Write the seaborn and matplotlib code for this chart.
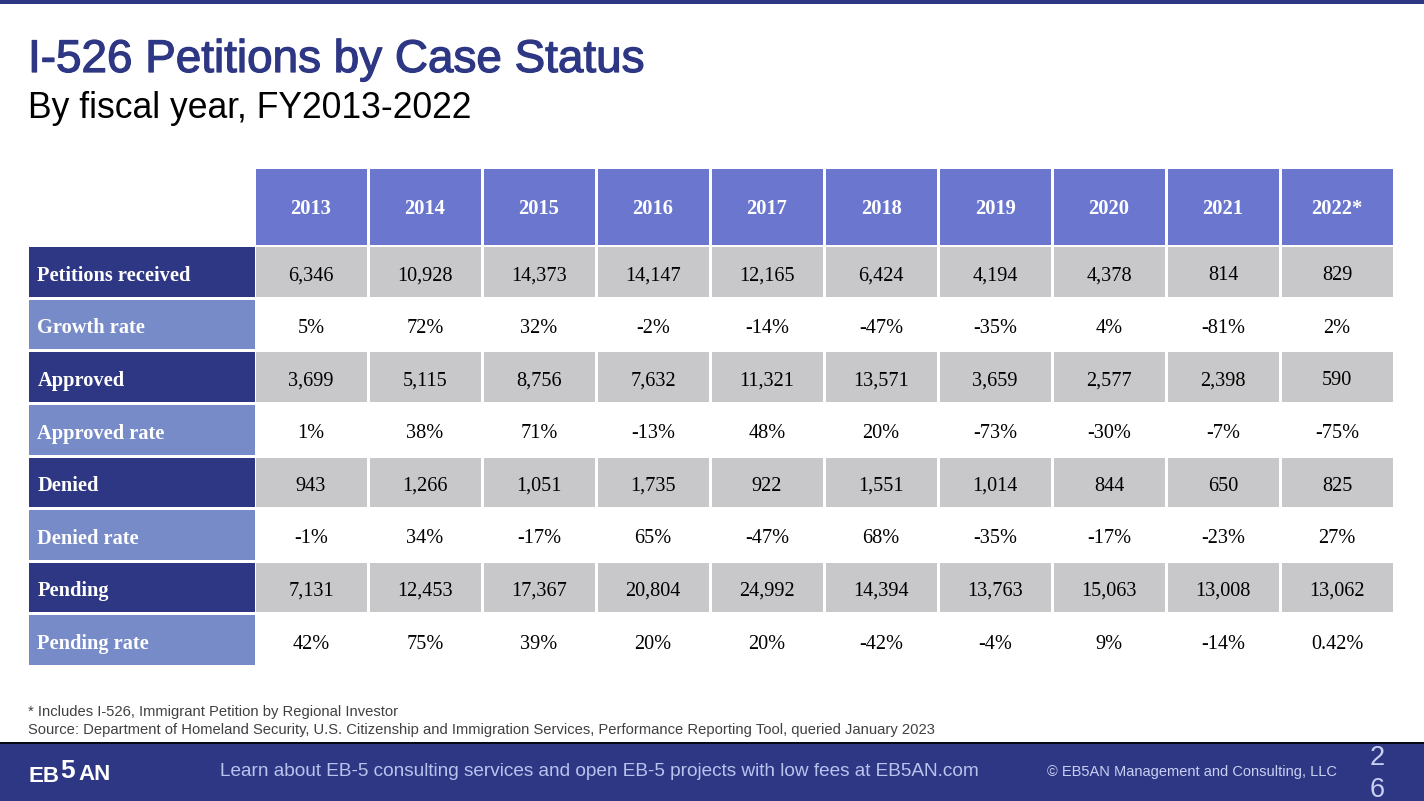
import numpy as np
import pandas as pd
import matplotlib
matplotlib.use("Agg")
import matplotlib.pyplot as plt
from matplotlib.colors import ListedColormap
from matplotlib.patches import Rectangle
import matplotlib.patheffects as pe
import seaborn as sns

# ---------------- data ----------------
years = ["2013", "2014", "2015", "2016", "2017", "2018", "2019", "2020", "2021", "2022*"]
row_labels = ["Petitions received", "Growth rate", "Approved", "Approved rate",
              "Denied", "Denied rate", "Pending", "Pending rate"]
petitions_received = ["6,346", "10,928", "14,373", "14,147", "12,165", "6,424", "4,194", "4,378", "814", "829"]
growth_rate = ["5%", "72%", "32%", "-2%", "-14%", "-47%", "-35%", "4%", "-81%", "2%"]
approved = ["3,699", "5,115", "8,756", "7,632", "11,321", "13,571", "3,659", "2,577", "2,398", "590"]
approved_rate = ["1%", "38%", "71%", "-13%", "48%", "20%", "-73%", "-30%", "-7%", "-75%"]
denied = ["943", "1,266", "1,051", "1,735", "922", "1,551", "1,014", "844", "650", "825"]
denied_rate = ["-1%", "34%", "-17%", "65%", "-47%", "68%", "-35%", "-17%", "-23%", "27%"]
pending = ["7,131", "12,453", "17,367", "20,804", "24,992", "14,394", "13,763", "15,063", "13,008", "13,062"]
pending_rate = ["42%", "75%", "39%", "20%", "20%", "-42%", "-4%", "9%", "-14%", "0.42%"]

title = "I-526 Petitions by Case Status"
subtitle = "By fiscal year, FY2013-2022"
note1 = "* Includes I-526, Immigrant Petition by Regional Investor"
note2 = "Source: Department of Homeland Security, U.S. Citizenship and Immigration Services, Performance Reporting Tool, queried January 2023"
footer_mid = "Learn about EB-5 consulting services and open EB-5 projects with low fees at EB5AN.com"
footer_right = "\u00a9 EB5AN Management and Consulting, LLC"
page_no = "26"

# ---------------- styling ----------------
NAVY = "#2E3784"
HEADER = "#6B77CF"
LIGHT = "#788BC9"
GRAY = "#C8C8CA"
WHITE = "#FFFFFF"

sns.set_theme(style="white")
plt.rcParams["font.family"] = ["Liberation Sans", "DejaVu Sans"]

W, H = 1424, 801
fig = plt.figure(figsize=(W / 100, H / 100), dpi=100)
fig.patch.set_facecolor("white")

def px_axes(x0, y0, x1, y1):
    return fig.add_axes([x0 / W, 1 - y1 / H, (x1 - x0) / W, (y1 - y0) / H])

# overlay axes in pixel coordinates
bg = fig.add_axes([0, 0, 1, 1])
bg.set_xlim(0, W)
bg.set_ylim(H, 0)
bg.axis("off")

# top bar
bg.add_patch(Rectangle((0, 0), W, 4, color=NAVY, lw=0))
# titles
bg.text(28, 60, title, fontsize=33, color=NAVY, va="center", ha="left",
        path_effects=[pe.withStroke(linewidth=0.9, foreground=NAVY)])
bg.text(28, 108, subtitle, fontsize=25.6, color="black", va="center", ha="left")
# notes
bg.text(28, 712, note1, fontsize=10.65, color="#404040", va="center", ha="left")
bg.text(28, 730, note2, fontsize=10.65, color="#404040", va="center", ha="left")
# footer
bg.add_patch(Rectangle((0, 742), W, H - 742, color=NAVY, lw=0))
bg.plot([0, W], [742.5, 742.5], color="black", lw=1.2)
bg.text(599, 771, footer_mid, fontsize=13.7, color="#B9C3EE", va="center", ha="center")
bg.text(1192, 772, footer_right, fontsize=10.5, color="#C9D0F2", va="center", ha="center")
bg.text(1377, 758, page_no[0], fontsize=19.5, color="#C9D0F2", va="center", ha="center")
bg.text(1377, 790, page_no[1], fontsize=19.5, color="#C9D0F2", va="center", ha="center")
bg.text(29, 776, "EB", fontsize=16, color="white", fontweight="bold", va="center", ha="left")
bg.text(60, 771, "5", fontsize=19, color="white", fontweight="bold", va="center", ha="left")
bg.text(78, 775, "AN", fontsize=16, color="white", fontweight="bold", va="center", ha="left")

SERIF = ["Liberation Serif", "DejaVu Serif"]

# ---------------- body heatmap ----------------
values = [petitions_received, growth_rate, approved, approved_rate,
          denied, denied_rate, pending, pending_rate]
body_text = pd.DataFrame(values, index=row_labels, columns=years)
shade = pd.DataFrame([[1 if i % 2 == 0 else 0] * len(years) for i in range(len(row_labels))],
                     index=row_labels, columns=years)

ax_body = px_axes(254, 245, 1394, 666)
sns.heatmap(shade, ax=ax_body, cmap=ListedColormap([WHITE, GRAY]), vmin=0, vmax=1,
            cbar=False, annot=body_text.values, fmt="", linewidths=2, linecolor="white",
            annot_kws={"fontsize": 14.6, "color": "black", "family": SERIF,
                       "va": "center_baseline"})
for t in ax_body.texts:
    x, y = t.get_position()
    t.set_position((x, y + 0.035))
ax_body.set_xticks([]); ax_body.set_yticks([])
ax_body.set_xlabel(""); ax_body.set_ylabel("")

# ---------------- header heatmap ----------------
ax_head = px_axes(254, 167, 1394, 246)
hdr = pd.DataFrame([[1] * len(years)], columns=years)
sns.heatmap(hdr, ax=ax_head, cmap=ListedColormap([HEADER]), cbar=False,
            annot=np.array([years]), fmt="", linewidths=2, linecolor="white",
            annot_kws={"fontsize": 14.8, "color": "white", "fontweight": "bold",
                       "family": SERIF, "va": "center_baseline"})
ax_head.set_xticks([]); ax_head.set_yticks([])
ax_head.set_xlabel(""); ax_head.set_ylabel("")

# ---------------- row label heatmap ----------------
ax_lab = px_axes(27, 245, 256, 666)
lab = pd.DataFrame([[0 if i % 2 == 0 else 1] for i in range(len(row_labels))], index=row_labels)
sns.heatmap(lab, ax=ax_lab, cmap=ListedColormap([NAVY, LIGHT]), vmin=0, vmax=1, cbar=False,
            linewidths=2, linecolor="white")
for i, name in enumerate(row_labels):
    ax_lab.text(0.045, i + 0.535, name, ha="left", va="center_baseline", color="white",
                fontsize=14.7, fontweight="bold", family=SERIF)
ax_lab.set_xticks([]); ax_lab.set_yticks([])
ax_lab.set_xlabel(""); ax_lab.set_ylabel("")

fig.savefig("out.png", dpi=100, facecolor="white")
